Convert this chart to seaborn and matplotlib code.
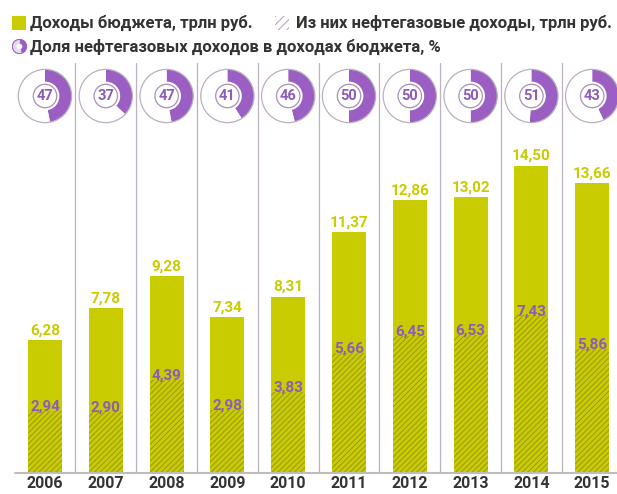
import matplotlib
matplotlib.use("Agg")
import matplotlib.pyplot as plt
from matplotlib.patches import Circle, Rectangle
import seaborn as sns
import pandas as pd

# данные
years = ["2006", "2007", "2008", "2009", "2010", "2011", "2012", "2013", "2014", "2015"]
total = [6.28, 7.78, 9.28, 7.34, 8.31, 11.37, 12.86, 13.02, 14.50, 13.66]
oilgas = [2.94, 2.90, 4.39, 2.98, 3.83, 5.66, 6.45, 6.53, 7.43, 5.86]
share = [47, 37, 47, 41, 46, 50, 50, 50, 51, 43]

yellow = "#c8cc00"
olive = "#9a9a1c"
purple = "#9b5fc3"
purple_txt = "#8d5cb8"
line_col = "#bab0c0"
dark = "#333333"

sns.set_theme(style="white")
plt.rcParams["font.family"] = ["Roboto", "DejaVu Sans"]
plt.rcParams["hatch.linewidth"] = 0.75

W, H = 617, 494
base_px, top_px = 473, 63
ppu = 21.2
left_px = 14.6
step = 60.8

fig = plt.figure(figsize=(W / 100, H / 100), dpi=100)
ax = fig.add_axes([left_px / W, (H - base_px) / H, (W - left_px) / W, (base_px - top_px) / H])

df = pd.DataFrame({"year": years, "total": total, "oilgas": oilgas, "share": share})

sns.barplot(data=df, x="year", y="total", color=yellow, saturation=1, width=0.56,
            linewidth=0, errorbar=None, ax=ax)
sns.barplot(data=df, x="year", y="oilgas", color=yellow, saturation=1, width=0.56,
            hatch="//////", edgecolor=olive, linewidth=0, errorbar=None, ax=ax)

ax.set_xlim(-0.5, -0.5 + (W - left_px) / step)
ax.set_ylim(0, (base_px - top_px) / ppu)
for sp in ax.spines.values():
    sp.set_visible(False)
ax.set_xlabel("")
ax.set_ylabel("")
ax.set_yticks([])
ax.tick_params(axis="x", length=0, pad=2, labelsize=11.5, labelcolor=dark)
for lbl in ax.get_xticklabels():
    lbl.set_fontweight("bold")

# разделители и базовая линия
for i in range(len(years) - 1):
    ax.axvline(i + 0.5, color=line_col, lw=0.9, zorder=0)
ax.axhline(0, color="#bdbdbd", lw=1.5, clip_on=False)

# подписи значений
for i, (t, o) in enumerate(zip(total, oilgas)):
    ax.annotate(f"{t:.2f}".replace(".", ","), (i, t), xytext=(0, 2), textcoords="offset points",
                ha="center", va="bottom", color=yellow, fontweight="bold", fontsize=11)
    ax.annotate(f"{o:.2f}".replace(".", ","), (i, o), xytext=(0, -2), textcoords="offset points",
                ha="center", va="bottom", color=purple_txt, fontweight="bold", fontsize=11)

# кольца с долей
cy = (base_px - 96) / ppu
for i, s in enumerate(share):
    d = ax.inset_axes([i - 0.46, cy - 28 / ppu, 0.92, 56 / ppu], transform=ax.transData)
    d.pie([s, 100 - s], colors=[purple, "white"], startangle=90, counterclock=False,
          wedgeprops=dict(width=0.46, linewidth=0))
    d.add_patch(Circle((0, 0), 1, fill=False, ec=line_col, lw=0.9))
    d.add_patch(Circle((0, 0), 0.44, fc="white", ec="#a98fba", lw=0.9))
    d.text(0, 0, str(s), ha="center", va="center", color=purple_txt, fontweight="bold", fontsize=10.5)
    d.set_xlim(-1.05, 1.05)
    d.set_ylim(-1.05, 1.05)
    d.set_aspect("equal")
    d.patch.set_alpha(0)

# легенда
fig.add_artist(Rectangle((12 / W, 1 - 30 / H), 14 / W, 14 / H, transform=fig.transFigure,
                         fc=yellow, ec="none"))
fig.text(30 / W, 1 - 23 / H, "Доходы бюджета, трлн руб.", va="center", ha="left",
         fontsize=12, fontweight="bold", color=dark)
fig.add_artist(Rectangle((275 / W, 1 - 30 / H), 14 / W, 14 / H, transform=fig.transFigure,
                         fill=False, hatch="////", ec="#b79ccc", lw=0))
fig.text(296 / W, 1 - 23 / H, "Из них нефтегазовые доходы, трлн руб.", va="center", ha="left",
         fontsize=12, fontweight="bold", color=dark)
ic = fig.add_axes([12 / W, 1 - 54 / H, 15 / W, 15 / H])
ic.pie([45, 55], colors=[purple, "#e6dbee"], startangle=90, counterclock=False,
       wedgeprops=dict(width=0.6, linewidth=0))
ic.add_patch(Circle((0, 0), 1, fill=False, ec=purple, lw=0.8))
ic.set_xlim(-1.05, 1.05)
ic.set_ylim(-1.05, 1.05)
ic.set_aspect("equal")
fig.text(30 / W, 1 - 47 / H, "Доля нефтегазовых доходов в доходах бюджета, %", va="center", ha="left",
         fontsize=12, fontweight="bold", color=dark)

fig.savefig("out.png", dpi=100)
